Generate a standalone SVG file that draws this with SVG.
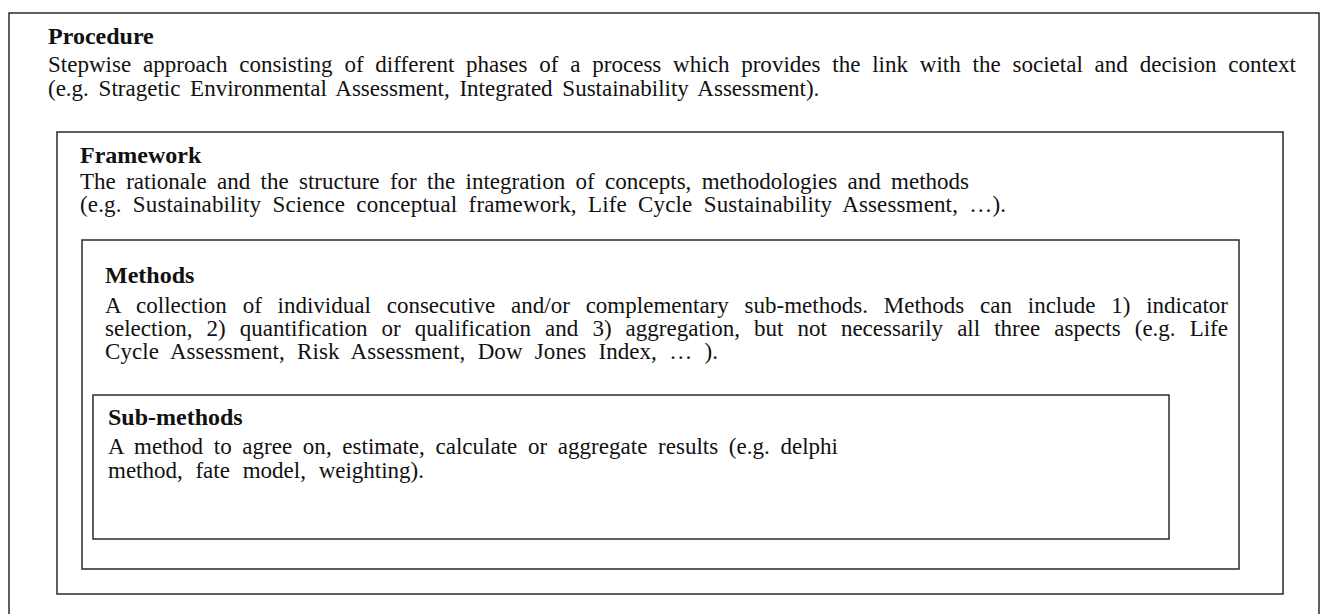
<svg xmlns="http://www.w3.org/2000/svg" width="1321" height="614" viewBox="0 0 1321 614">
<style>
.box{fill:none;stroke:#2a2a2a;stroke-width:1.5}
.h{font-family:"Liberation Serif","Times New Roman",serif;font-size:24px;font-weight:bold;fill:#111}
.t{font-family:"Liberation Serif","Times New Roman",serif;font-size:23px;fill:#111}
</style>
<rect width="1321" height="614" fill="#fff"/>
<g id="procedure">
<path class="box" d="M9,616 V13 H1319 V616"/>
<text class="h" x="48" y="43.5">Procedure</text>
<text class="t" x="48" y="72" word-spacing="6" textLength="1248" lengthAdjust="spacing">Stepwise approach consisting of different phases of a process which provides the link with the societal and decision context</text>
<text class="t" x="48" y="96" word-spacing="4">(e.g. Stragetic Environmental Assessment, Integrated Sustainability Assessment).</text>
</g>
<g id="framework">
<rect class="box" x="57" y="132" width="1226" height="462"/>
<text class="h" x="80" y="163">Framework</text>
<text class="t" x="80" y="189" word-spacing="4.6" textLength="889" lengthAdjust="spacing">The rationale and the structure for the integration of concepts, methodologies and methods</text>
<text class="t" x="80" y="212" word-spacing="5.4" textLength="926" lengthAdjust="spacing">(e.g. Sustainability Science conceptual framework, Life Cycle Sustainability Assessment, …).</text>
</g>
<g id="methods">
<rect class="box" x="82" y="240" width="1157" height="329"/>
<text class="h" x="105" y="282.5">Methods</text>
<text class="t" x="105" y="313" word-spacing="10" textLength="1123" lengthAdjust="spacing">A collection of individual consecutive and/or complementary sub-methods. Methods can include 1) indicator</text>
<text class="t" x="105" y="336" word-spacing="8.3" textLength="1123" lengthAdjust="spacing">selection, 2) quantification or qualification and 3) aggregation, but not necessarily all three aspects (e.g. Life</text>
<text class="t" x="105" y="359" word-spacing="6.5" textLength="613" lengthAdjust="spacing">Cycle Assessment, Risk Assessment, Dow Jones Index, … ).</text>
</g>
<g id="sub-methods">
<rect class="box" x="93" y="395" width="1076" height="144"/>
<text class="h" x="108" y="425">Sub-methods</text>
<text class="t" x="108" y="454" word-spacing="4.9" textLength="730" lengthAdjust="spacing">A method to agree on, estimate, calculate or aggregate results (e.g. delphi</text>
<text class="t" x="108" y="478" word-spacing="7" textLength="316" lengthAdjust="spacing">method, fate model, weighting).</text>
</g>
</svg>
